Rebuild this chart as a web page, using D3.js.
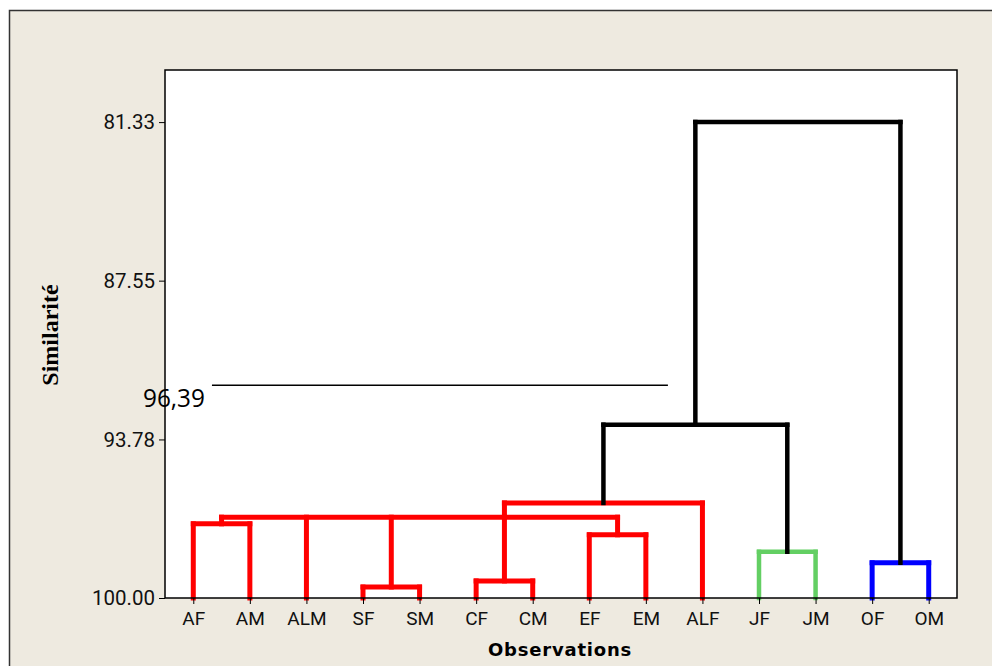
<!DOCTYPE html>
<html lang="fr">
<head>
<meta charset="UTF-8">
<title>Dendrogramme - Similarité</title>
<script src="https://d3js.org/d3.v7.min.js"></script>
<style>
    body { margin: 0; background: #fff; }
    .tick text { font-family: Roboto, "DejaVu Sans", sans-serif; }
</style>
</head>
<body>
<script>
    var width = 992, height = 666;

    // leaves, left to right
    var leaves = ["AF","AM","ALM","SF","SM","CF","CM","EF","EM","ALF","JF","JM","OF","OM"];

    // y axis ticks (similarity)
    var yTicks = [81.33, 87.55, 93.78, 100.00];

    // merges: children, similarity level, colour group
    var mergeIds      = ["A","S","C","E","J","O","R1","R","RJ","ALL"];
    var mergeChildren = [["AF","AM"],["SF","SM"],["CF","CM"],["EF","EM"],["JF","JM"],["OF","OM"],
                         ["A","ALM","S","C","E"],["R1","ALF"],["R","J"],["RJ","O"]];
    var mergeSim      = [97.09, 99.57, 99.33, 97.52, 98.19, 98.62, 96.83, 96.27, 93.20, 81.33];
    var mergeGroup    = ["red","red","red","red","green","blue","red","red","black","black"];
    // node R1 was redrawn by hand: its stem rises from cluster C
    var mergeStem     = {"R1": "C"};

    // hand drawn cut line
    var cutLabel = "96,39";
    var cutSim = 91.65;
    var cutFrom = 0.33, cutTo = 8.39;   // in leaf index units

    var groupColor = {red: "#ff0000", green: "#63cf63", blue: "#0000ff", black: "#000000"};
    var groupWidth = {red: 5, green: 4.5, blue: 5, black: 4.5};

    var margin = {left: 165, right: 35, top: 70, bottom: 68};

    var svg = d3.select("body").append("svg")
        .attr("width", width)
        .attr("height", height);

    // outer panel
    svg.append("rect")
        .attr("x", 9.5).attr("y", 10.5)
        .attr("width", width + 20).attr("height", height + 20)
        .attr("fill", "#eeeae0")
        .attr("stroke", "#333").attr("stroke-width", 1.5);

    var x = d3.scalePoint()
        .domain(leaves)
        .range([margin.left, width - margin.right])
        .padding(0.5);

    var xi = d3.scaleLinear()
        .domain([-0.5, leaves.length - 0.5])
        .range([margin.left, width - margin.right]);

    var y = d3.scaleLinear()
        .domain([100, 79.286])
        .range([height - margin.bottom, margin.top]);

    svg.append("rect")
        .attr("x", margin.left).attr("y", margin.top)
        .attr("width", width - margin.left - margin.right)
        .attr("height", height - margin.top - margin.bottom)
        .attr("fill", "#fff");

    // node positions
    var pos = {};
    leaves.forEach(function(l){ pos[l] = {x: x(l), sim: 100}; });
    mergeIds.forEach(function(id, i){
        var kids = mergeChildren[i];
        var cx;
        if (mergeStem[id]) cx = pos[mergeStem[id]].x;
        else cx = d3.mean([pos[kids[0]].x, pos[kids[kids.length - 1]].x]);
        pos[id] = {x: cx, sim: mergeSim[i]};
    });

    var segs = [];
    mergeIds.forEach(function(id, i){
        var kids = mergeChildren[i];
        var xs = kids.map(function(k){ return pos[k].x; });
        var col = groupColor[mergeGroup[i]], w = groupWidth[mergeGroup[i]];
        segs.push({x1: d3.min(xs), x2: d3.max(xs), y1: mergeSim[i], y2: mergeSim[i], c: col, w: w});
        kids.forEach(function(k){
            segs.push({x1: pos[k].x, x2: pos[k].x, y1: pos[k].sim, y2: mergeSim[i], c: col, w: w});
        });
    });

    svg.append("g")
        .attr("fill", "none")
        .attr("stroke-linecap", "square")
        .selectAll("line")
        .data(segs)
        .enter().append("line")
        .attr("x1", function(d){ return d.x1; })
        .attr("x2", function(d){ return d.x2; })
        .attr("y1", function(d){ return y(d.y1); })
        .attr("y2", function(d){ return y(d.y2); })
        .attr("stroke", function(d){ return d.c; })
        .attr("stroke-width", function(d){ return d.w; });

    // plot frame
    svg.append("rect")
        .attr("x", margin.left).attr("y", margin.top)
        .attr("width", width - margin.left - margin.right)
        .attr("height", height - margin.top - margin.bottom)
        .attr("fill", "none")
        .attr("stroke", "#000").attr("stroke-width", 1.5);

    // axes
    var yAxis = svg.append("g")
        .attr("transform", "translate(" + margin.left + ",0)")
        .call(d3.axisLeft(y).tickValues(yTicks).tickFormat(d3.format(".2f")).tickSize(6).tickPadding(4));
    yAxis.select(".domain").remove();
    yAxis.selectAll("text").attr("font-size", 20.5).attr("fill", "#111");

    var xAxis = svg.append("g")
        .attr("transform", "translate(0," + (height - margin.bottom) + ")")
        .call(d3.axisBottom(x).tickSize(6).tickPadding(8));
    xAxis.select(".domain").remove();
    xAxis.selectAll("text")
        .attr("font-size", 19)
        .attr("font-family", "'DejaVu Sans', sans-serif")
        .attr("fill", "#111");

    // axis titles
    svg.append("text")
        .attr("transform", "translate(58,335) rotate(-90)")
        .attr("text-anchor", "middle")
        .attr("font-family", "'Liberation Serif', serif")
        .attr("font-weight", "bold")
        .attr("font-size", 24)
        .text("Similarité");

    svg.append("text")
        .attr("x", 560).attr("y", 656)
        .attr("text-anchor", "middle")
        .attr("font-family", "'DejaVu Sans', sans-serif")
        .attr("font-weight", "bold")
        .attr("font-size", 18)
        .attr("letter-spacing", 0.8)
        .text("Observations");

    // cut annotation
    svg.append("line")
        .attr("x1", xi(cutFrom)).attr("x2", xi(cutTo))
        .attr("y1", y(cutSim)).attr("y2", y(cutSim))
        .attr("stroke", "#000").attr("stroke-width", 1.5);

    svg.append("text")
        .attr("x", xi(cutFrom) - 69).attr("y", y(cutSim) + 22)
        .attr("font-family", "'Open Sans', sans-serif")
        .attr("font-size", 26)
        .attr("textLength", 62)
        .attr("lengthAdjust", "spacingAndGlyphs")
        .text(cutLabel);
</script>
</body>
</html>
